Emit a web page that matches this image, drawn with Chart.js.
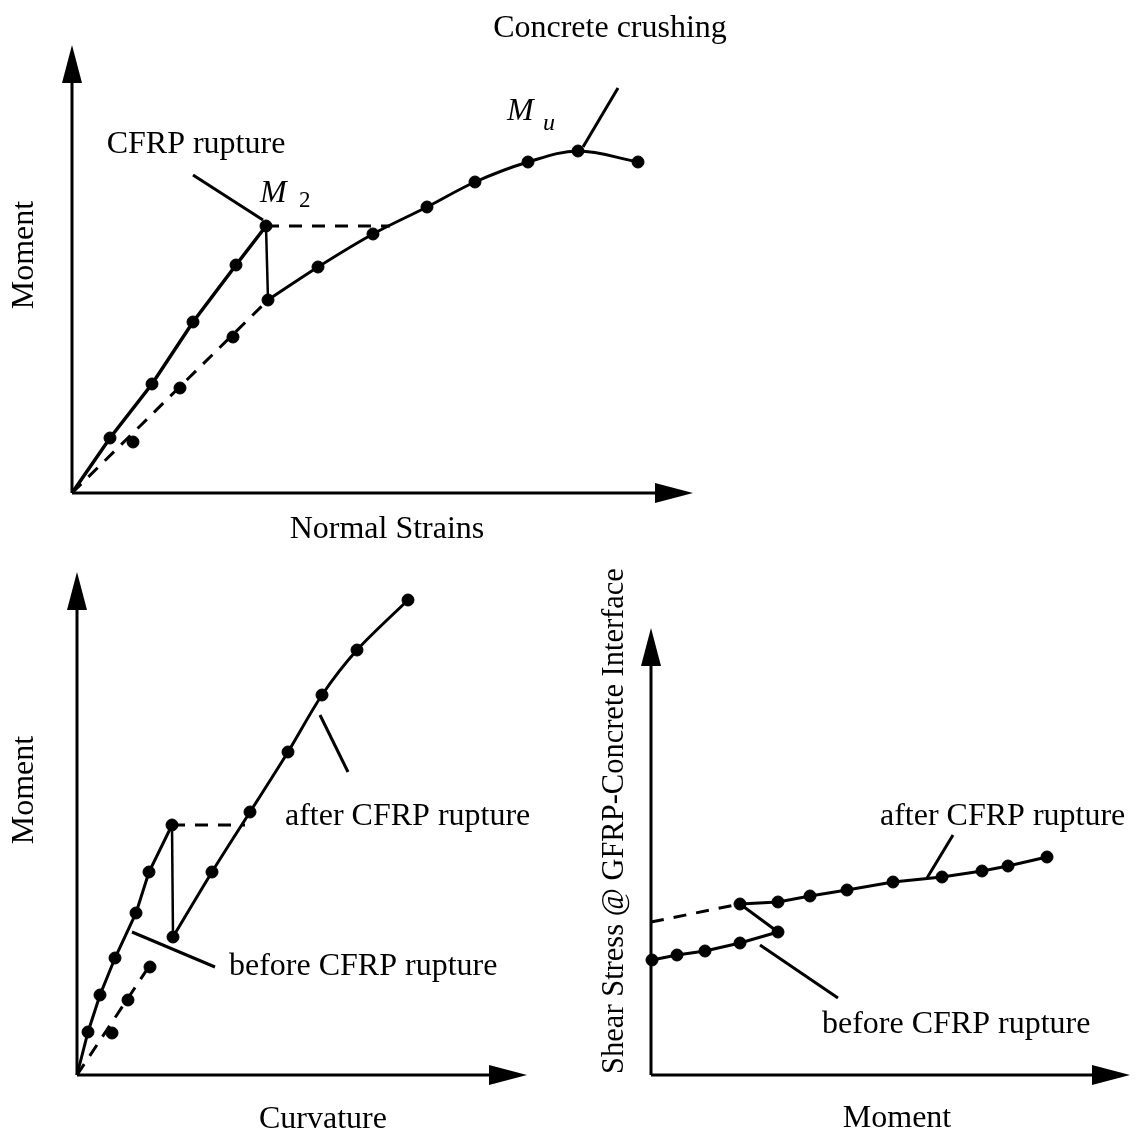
<!DOCTYPE html>
<html>
<head>
<meta charset="utf-8">
<script src="https://cdn.jsdelivr.net/npm/chart.js@4.4.1/dist/chart.umd.min.js"></script>
<style>
  html, body { margin: 0; padding: 0; background: #fff; }
  body { width: 1148px; height: 1135px; position: relative; overflow: hidden; }
  canvas { position: absolute; }
</style>
</head>
<body>
<canvas id="strainChart" width="780" height="560" style="left:0;top:0"></canvas>
<canvas id="curvChart" width="560" height="575" style="left:0;top:560px"></canvas>
<canvas id="shearChart" width="578" height="590" style="left:570px;top:545px"></canvas>
<script>
// ---- top panel: moment vs normal strains ----
const strainBefore = [0, 3.8, 8.0, 12.1, 16.4, 19.4];
const momentBefore = [0, 5.5, 10.9, 17.1, 22.8, 26.7];
const strainAfter = [19.6, 24.6, 30.1, 35.5, 40.3, 45.6, 50.6, 56.6];
const momentAfter = [19.3, 22.6, 25.9, 28.6, 31.1, 33.1, 34.2, 33.1];
const strainDots = [6.1, 10.8, 16.1];
const momentDots = [5.1, 10.5, 15.6];
const strainMax = 62.1, momentMax1 = 44.8;

// ---- bottom left: moment vs curvature ----
const curvBefore = [0, 1.1, 2.3, 3.8, 5.9, 7.2, 9.5];
const momBefore2 = [0, 4.3, 8.0, 11.7, 16.2, 20.3, 25.0];
const curvAfter = [9.6, 13.5, 17.3, 21.1, 24.5, 28.0, 33.1];
const momAfter2 = [13.8, 20.3, 26.3, 32.3, 38.0, 42.5, 47.5];
const curvDots = [3.5, 5.1, 7.3];
const momDots2 = [4.2, 7.5, 10.8];
const curvMax = 45.0, momentMax2 = 50.3;

// ---- bottom right: shear stress vs moment ----
const momBefore3 = [0.1, 2.6, 5.4, 8.9, 12.7];
const shearBefore = [11.5, 12.0, 12.4, 13.2, 14.3];
const momAfter3 = [8.9, 12.7, 15.9, 19.6, 24.2, 29.1, 33.1, 35.7, 39.6];
const shearAfter = [17.1, 17.3, 17.9, 18.5, 19.3, 19.8, 20.4, 20.9, 21.8];
const momMax3 = 47.9, shearMax = 44.7;

const FONT = '32px "Liberation Serif", "Times New Roman", serif';
const YFONT = '30.5px "Liberation Serif", "Times New Roman", serif';
const ITAL = 'italic 32px "Liberation Serif", "Times New Roman", serif';
const SUB = '23px "Liberation Serif", "Times New Roman", serif';
const SUBI = 'italic 24px "Liberation Serif", "Times New Roman", serif';

const pts = (xs, ys) => xs.map((x, i) => ({ x: x, y: ys[i] }));

function solid(data, width, radius) {
    return {
        data: data, borderColor: "#000", backgroundColor: "#000",
        borderWidth: width, pointRadius: radius, pointBackgroundColor: "#000",
        pointBorderColor: "#000", pointBorderWidth: 1,
        showLine: true, clip: false, tension: 0
    };
}
function dashed(data) {
    return Object.assign(solid(data, 3, 0), { borderDash: [13, 10] });
}
function dots(data) {
    return Object.assign(solid(data, 1, 6), { showLine: false });
}

// axes with arrow heads + annotation texts
const sketchPlugin = {
    id: "sketch",
    afterDatasetsDraw(chart, args, opts) {
        const ctx = chart.ctx, a = chart.chartArea;
        ctx.save();
        ctx.fillStyle = "#000";
        ctx.strokeStyle = "#000";
        ctx.lineWidth = 3;
        const L = 38, W = 10;
        ctx.beginPath();
        ctx.moveTo(a.left, a.bottom);
        ctx.lineTo(a.left, a.top + L);
        ctx.moveTo(a.left, a.bottom);
        ctx.lineTo(a.right - L, a.bottom);
        ctx.stroke();
        ctx.beginPath();
        ctx.moveTo(a.left, a.top);
        ctx.lineTo(a.left - W, a.top + L);
        ctx.lineTo(a.left + W, a.top + L);
        ctx.closePath();
        ctx.fill();
        ctx.beginPath();
        ctx.moveTo(a.right, a.bottom);
        ctx.lineTo(a.right - L, a.bottom - W);
        ctx.lineTo(a.right - L, a.bottom + W);
        ctx.closePath();
        ctx.fill();

        const xs = chart.scales.x, ys = chart.scales.y;
        (opts.notes || []).forEach(n => {
            const px = xs.getPixelForValue(n.x), py = ys.getPixelForValue(n.y);
            ctx.save();
            ctx.font = n.font || FONT;
            ctx.textAlign = n.align || "left";
            ctx.textBaseline = "alphabetic";
            ctx.translate(px, py);
            if (n.rotate) ctx.rotate(-Math.PI / 2);
            ctx.fillText(n.text, 0, 0);
            ctx.restore();
        });
        ctx.restore();
    }
};

function makeChart(id, pad, xMax, yMax, datasets, notes) {
    return new Chart(document.getElementById(id), {
        type: "scatter",
        data: { datasets: datasets },
        options: {
            responsive: false,
            animation: false,
            devicePixelRatio: 1,
            layout: { padding: pad },
            plugins: {
                legend: { display: false },
                tooltip: { enabled: false },
                sketch: { notes: notes }
            },
            scales: {
                x: { type: "linear", min: 0, max: xMax, display: false },
                y: { type: "linear", min: 0, max: yMax, display: false }
            }
        },
        plugins: [sketchPlugin]
    });
}

const mBefore = pts(strainBefore, momentBefore);
const mAfter = pts(strainAfter, momentAfter);
const m2 = mBefore[mBefore.length - 1];
makeChart("strainChart", { left: 72, top: 45, right: 87, bottom: 67 }, strainMax, momentMax1, [
    Object.assign(solid(mBefore, 3.5, 6), { pointRadius: [0, 6, 6, 6, 6, 6] }),
    solid([m2, mAfter[0]], 2.5, 0),
    Object.assign(solid(mAfter, 3, 6), { tension: 0.35 }),
    dashed([{ x: 0, y: 0 }, mAfter[0]]),
    dots(pts(strainDots, momentDots)),
    dashed([m2, { x: 31.8, y: m2.y }]),
    solid([{ x: 12.1, y: 31.8 }, { x: 19.1, y: 27.3 }], 3, 0),
    solid([{ x: 54.6, y: 40.5 }, { x: 51.1, y: 34.6 }], 3, 0)
], [
    { text: "Concrete crushing", x: 53.8, y: 45.6, align: "center" },
    { text: "CFRP rupture", x: 12.4, y: 34.0, align: "center" },
    { text: "M", x: 18.8, y: 29.1, font: ITAL },
    { text: "2", x: 22.7, y: 28.6, font: SUB },
    { text: "M", x: 43.5, y: 37.3, font: ITAL },
    { text: "u", x: 47.1, y: 36.3, font: SUBI },
    { text: "Normal Strains", x: 31.5, y: -4.5, align: "center" },
    { text: "Moment", x: -3.9, y: 23.8, align: "center", rotate: true }
]);

const cBefore = pts(curvBefore, momBefore2);
const cAfter = pts(curvAfter, momAfter2);
const c2 = cBefore[cBefore.length - 1];
makeChart("curvChart", { left: 77, top: 12, right: 33, bottom: 60 }, curvMax, momentMax2, [
    Object.assign(solid(cBefore, 3, 6), { pointRadius: [0, 6, 6, 6, 6, 6, 6] }),
    solid([c2, cAfter[0]], 2.5, 0),
    Object.assign(solid(cAfter, 3, 6), { tension: 0.3 }),
    dashed([{ x: 0, y: 0 }, { x: 7.5, y: 11.3 }]),
    dots(pts(curvDots, momDots2)),
    dashed([c2, { x: 16.8, y: c2.y }]),
    solid([{ x: 5.5, y: 14.3 }, { x: 13.8, y: 10.8 }], 3, 0),
    solid([{ x: 24.3, y: 36.0 }, { x: 27.1, y: 30.3 }], 3, 0)
], [
    { text: "before CFRP rupture", x: 15.2, y: 10.0 },
    { text: "after CFRP rupture", x: 20.8, y: 25.0 },
    { text: "Curvature", x: 24.6, y: -5.3, align: "center" },
    { text: "Moment", x: -4.4, y: 28.5, align: "center", rotate: true }
]);

const sBefore = pts(momBefore3, shearBefore);
const sAfter = pts(momAfter3, shearAfter);
makeChart("shearChart", { left: 81, top: 83, right: 18, bottom: 60 }, momMax3, shearMax, [
    solid(sBefore, 3, 6),
    solid([sBefore[sBefore.length - 1], sAfter[0]], 3, 0),
    solid(sAfter, 3, 6),
    dashed([{ x: 0, y: 15.3 }, sAfter[0]]),
    solid([{ x: 27.6, y: 19.7 }, { x: 30.2, y: 24.0 }], 3, 0),
    solid([{ x: 10.9, y: 13.0 }, { x: 18.7, y: 7.7 }], 3, 0)
], [
    { text: "after CFRP rupture", x: 22.9, y: 25.0 },
    { text: "before CFRP rupture", x: 17.1, y: 4.2 },
    { text: "Moment", x: 24.6, y: -5.2, align: "center" },
    { text: "Shear Stress @ GFRP-Concrete Interface", x: -2.8, y: 25.4, align: "center", rotate: true, font: YFONT }
]);
</script>
</body>
</html>
